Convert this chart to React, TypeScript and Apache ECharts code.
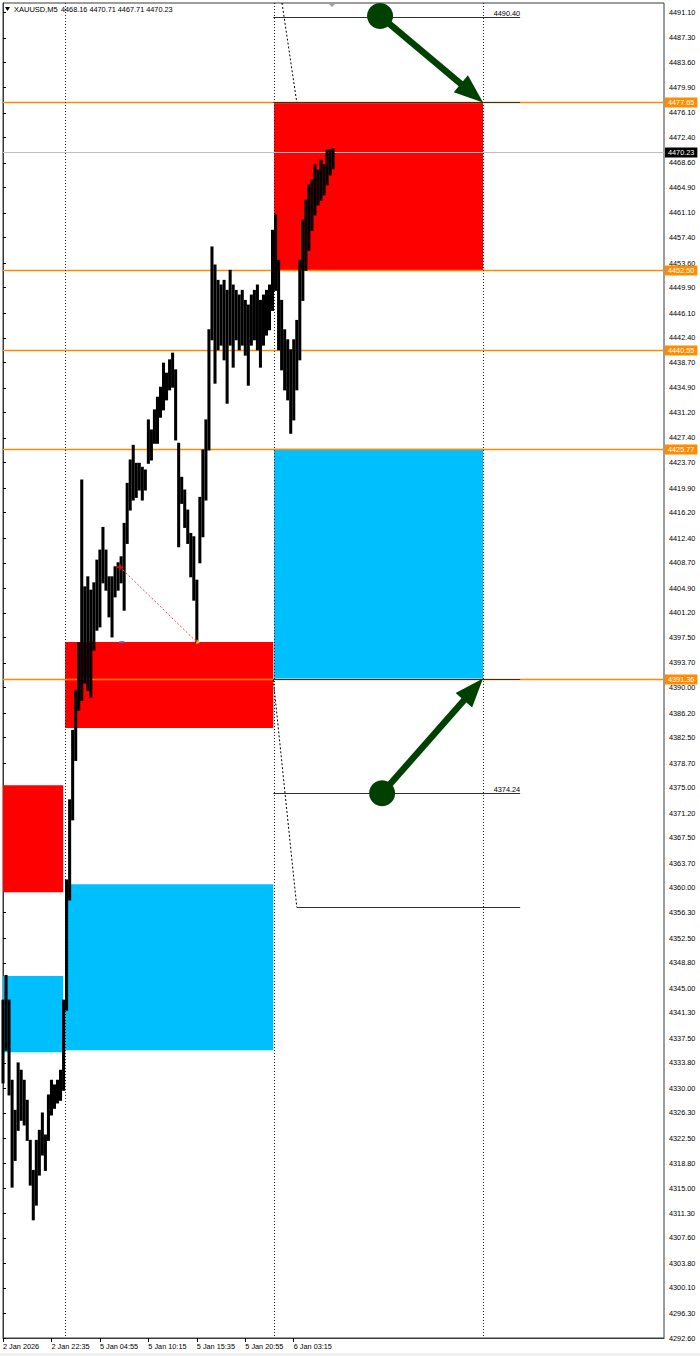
import React, { useEffect, useRef } from "react";
import * as echarts from "echarts";

const FONT = '"Liberation Sans", Arial, sans-serif';

// ---- axes ----
const xMin = 0;
const xMax = 873; // M5 bar index at right edge of plot
const yMin = 4292.6;
const yMax = 4492.54;
const xTickIdx = [0, 64, 128, 192, 256, 320, 384];
const xTickLabels = ["2 Jan 2026", "2 Jan 22:35", "5 Jan 04:55", "5 Jan 10:15", "5 Jan 15:35", "5 Jan 20:55", "6 Jan 03:15"];
const yTicks = [
  4491.1, 4487.3, 4483.6, 4479.9, 4476.1, 4472.4, 4468.6, 4464.9, 4461.1, 4457.4, 4453.6, 4449.9, 4446.1, 4442.4,
  4438.7, 4434.9, 4431.2, 4427.4, 4423.7, 4419.9, 4416.2, 4412.4, 4408.7, 4404.9, 4401.2, 4397.5, 4393.7, 4390.0,
  4386.2, 4382.5, 4378.7, 4375.0, 4371.2, 4367.5, 4363.7, 4360.0, 4356.3, 4352.5, 4348.8, 4345.0, 4341.3, 4337.5,
  4333.8, 4330.0, 4326.3, 4322.5, 4318.8, 4315.0, 4311.3, 4307.6, 4303.8, 4300.1, 4296.3, 4292.6,
];

// ---- price (high/low of each group of 4 M5 bars) ----
const barsPerColumn = 4;
const highs = [
  4343.2, 4346.9, 4343.2, 4331.2, 4326.7, 4333.8, 4332.7, 4331.2, 4328.2, 4322.2,
  4317.7, 4322.2, 4323.7, 4326.3, 4323.0, 4329.0, 4331.2, 4330.5, 4331.2, 4332.7,
  4343.2, 4361.2, 4373.2, 4383.6, 4389.6, 4396.7, 4421.1, 4405.1, 4406.6, 4404.6,
  4405.7, 4409.1, 4410.6, 4414.0, 4410.6, 4406.6, 4406.6, 4408.1, 4408.7, 4409.6,
  4414.6, 4420.6, 4424.1, 4426.3, 4423.6, 4423.6, 4423.0, 4422.6, 4430.1, 4428.6,
  4431.6, 4433.5, 4435.0, 4438.6, 4437.1, 4439.1, 4440.1, 4437.6, 4426.6, 4421.5,
  4419.6, 4416.6, 4413.1, 4412.6, 4406.1, 4418.5, 4425.6, 4430.1, 4443.6, 4456.0,
  4453.3, 4451.0, 4450.3, 4451.0, 4449.5, 4452.5, 4450.3, 4449.5, 4448.8, 4449.5,
  4448.0, 4447.3, 4448.8, 4449.5, 4450.3, 4448.0, 4448.8, 4449.5, 4450.3, 4458.5,
  4460.8, 4454.0, 4448.0, 4443.6, 4442.1, 4440.6, 4442.1, 4445.0, 4454.0, 4460.0,
  4463.0, 4465.3, 4466.0, 4468.3, 4467.5, 4469.0, 4468.3, 4470.5, 4470.6, 4470.71,
];
const lows = [
  4330.8, 4335.7, 4329.0, 4315.2, 4319.2, 4323.7, 4325.2, 4324.5, 4322.2, 4315.5,
  4310.3, 4312.5, 4317.0, 4320.0, 4317.7, 4322.2, 4326.0, 4327.0, 4327.8, 4328.2,
  4329.7, 4341.7, 4358.2, 4370.2, 4379.1, 4386.6, 4388.1, 4390.7, 4389.6, 4388.6,
  4395.6, 4398.6, 4399.1, 4405.7, 4404.6, 4400.6, 4397.6, 4403.6, 4404.6, 4405.7,
  4401.6, 4411.6, 4416.6, 4418.1, 4418.5, 4419.6, 4418.1, 4419.6, 4423.6, 4424.1,
  4426.6, 4426.6, 4430.5, 4431.6, 4433.1, 4434.6, 4435.0, 4427.1, 4411.1, 4417.6,
  4414.0, 4411.6, 4406.6, 4403.1, 4396.7, 4408.7, 4412.6, 4418.1, 4425.6, 4442.1,
  4435.6, 4440.6, 4441.3, 4439.1, 4432.6, 4441.3, 4438.0, 4442.1, 4440.6, 4441.3,
  4439.8, 4435.3, 4441.3, 4442.1, 4440.6, 4438.0, 4441.3, 4442.8, 4443.6, 4446.5,
  4449.5, 4440.6, 4437.6, 4434.6, 4433.1, 4428.1, 4430.1, 4434.6, 4439.1, 4448.0,
  4452.5, 4455.5, 4458.5, 4460.8, 4462.3, 4463.0, 4463.8, 4465.3, 4466.8, 4467.71,
];
const headerSymbol = "XAUUSD,M5";
const headerOHLC = "4468.16 4470.71 4467.71 4470.23";

// ---- period separators (bar index) ----
const separators = [82, 358, 634];

// ---- zones ----
const zoneX0 = [358, 358, 82, 0, 0, 82];
const zoneX1 = [634, 634, 357, 79.5, 79.5, 357];
const zoneTop = [4477.65, 4425.77, 4396.82, 4375.4, 4346.8, 4360.57];
const zoneBottom = [4452.5, 4391.36, 4383.94, 4359.37, 4335.41, 4335.71];
const zoneColors = ["#FF0000", "#00BFFF", "#FF0000", "#FF0000", "#00BFFF", "#00BFFF"];

// ---- horizontal levels ----
const orangeLevels = [4477.65, 4452.5, 4440.55, 4425.77, 4391.36];
const lastPrice = 4470.23;

// ---- trend lines (horizontal) ----
const trendStart = [357, 357, 357, 357, 388];
const trendEnd = [683, 683, 683, 683, 683];
const trendLevel = [4490.4, 4477.65, 4391.36, 4374.24, 4357.13];
const trendLabel = [true, false, false, true, false];

// ---- diagonal dotted lines ----
const diagX0 = [368.5, 357];
const diagY0 = [4492.54, 4391.2];
const diagX1 = [388, 388];
const diagY1 = [4477.65, 4357.13];

// ---- trade line ----
const tradeFrom = [154.6, 4408.05];
const tradeTo = [256, 4396.82];
const pendingMark = [157, 4396.82];

// ---- arrows: circle -> tip ----
const arrowFromX = [498, 500.7];
const arrowFromY = [4490.6, 4374.2];
const arrowToX = [634, 634];
const arrowToY = [4477.65, 4391.36];

const ORANGE = "#FF8C00";
const GREEN = "#004000";

function buildOption(): any {
  const priceData = highs.map((h, k) => [k * barsPerColumn, h, lows[k]]);
  const zoneData = zoneX0.map((x0, i) => [x0, zoneTop[i], zoneX1[i], zoneBottom[i]]);
  const levelData = orangeLevels.map((v) => [v, 0]).concat([[lastPrice, 1]]);
  const trendData = trendLevel.map((v, i) => [trendStart[i], v, trendEnd[i], trendLabel[i] ? 1 : 0]);
  const diagData = diagX0.map((x, i) => [x, diagY0[i], diagX1[i], diagY1[i]]);
  const arrowData = arrowFromX.map((x, i) => [x, arrowFromY[i], arrowToX[i], arrowToY[i]]);

  return {
    animation: false,
    backgroundColor: "#ffffff",
    grid: { left: 2, right: 36, top: 3, bottom: 18, show: true, borderColor: "#3a3a3a", borderWidth: 1, backgroundColor: "#fff" },
    xAxis: {
      type: "value",
      min: xMin,
      max: xMax,
      splitLine: { show: false },
      axisLine: { show: true, lineStyle: { color: "#3a3a3a" } },
      axisTick: { show: true, customValues: xTickIdx, length: 4, lineStyle: { color: "#000" } },
      axisLabel: {
        customValues: xTickIdx,
        formatter: (v: number) => xTickLabels[xTickIdx.indexOf(Math.round(v))] ?? "",
        align: "left",
        margin: 5,
        fontSize: 7.3,
        fontFamily: FONT,
        color: "#000",
      },
    },
    yAxis: {
      type: "value",
      position: "right",
      min: yMin,
      max: yMax,
      scale: true,
      splitLine: { show: false },
      axisLine: { show: true, lineStyle: { color: "#3a3a3a" } },
      axisTick: { show: true, customValues: yTicks, length: 3, lineStyle: { color: "#000" } },
      axisLabel: {
        customValues: yTicks,
        formatter: (v: number) => v.toFixed(2),
        margin: 5,
        fontSize: 7.3,
        fontFamily: FONT,
        color: "#000",
      },
    },
    graphic: [
      { type: "polygon", shape: { points: [[5, 7], [10, 7], [7.5, 11]] }, style: { fill: "#000" }, z: 100 },
      { type: "text", x: 14, y: 9, style: { text: headerSymbol, font: `7.5px ${FONT}`, fill: "#000", verticalAlign: "middle" }, z: 100 },
      { type: "text", x: 61, y: 9, style: { text: headerOHLC, font: `7.3px ${FONT}`, fill: "#000", verticalAlign: "middle" }, z: 100 },
      { type: "polygon", shape: { points: [[328, 3], [336, 3], [332, 7]] }, style: { fill: "#a0a0a0" }, z: 100 },
      { type: "rect", shape: { x: 0, y: 1353, width: 700, height: 3 }, style: { fill: "#f0f0f0" }, z: 100 },
    ],
    series: [
      // zones
      {
        type: "custom",
        silent: true,
        z: 1,
        data: zoneData,
        renderItem: (params: any, api: any) => {
          const a = api.coord([api.value(0), api.value(1)]);
          const b = api.coord([api.value(2), api.value(3)]);
          return {
            type: "rect",
            shape: { x: a[0], y: a[1], width: b[0] - a[0], height: b[1] - a[1] },
            style: { fill: zoneColors[params.dataIndex] },
          };
        },
      },
      // orange levels + current price line with right labels
      {
        type: "custom",
        silent: true,
        z: 3,
        data: levelData,
        renderItem: (params: any, api: any) => {
          const v = api.value(0);
          const isLast = api.value(1) === 1;
          const l = api.coord([xMin, v]);
          const r = api.coord([xMax, v]);
          const y = Math.round(l[1]) + 0.5;
          const col = isLast ? "#000000" : ORANGE;
          return {
            type: "group",
            children: [
              {
                type: "line",
                shape: { x1: l[0], y1: y, x2: r[0], y2: y },
                style: { stroke: isLast ? "#c0c0c0" : ORANGE, lineWidth: isLast ? 1 : 1.6 },
              },
              {
                type: "text",
                x: r[0] + 1,
                y: y,
                z2: 10,
                style: {
                  text: v.toFixed(2),
                  fill: "#fff",
                  backgroundColor: col,
                  padding: [2, 3, 1, 3],
                  font: `7.3px ${FONT}`,
                  verticalAlign: "middle",
                  align: "left",
                },
              },
            ],
          };
        },
      },
      // period separators
      {
        type: "custom",
        silent: true,
        z: 4,
        data: separators.map((s) => [s]),
        renderItem: (params: any, api: any) => {
          const a = api.coord([api.value(0), yMax]);
          const b = api.coord([api.value(0), yMin]);
          const x = Math.round(a[0]) + 0.5;
          return { type: "line", shape: { x1: x, y1: a[1], x2: x, y2: b[1] }, style: { stroke: "#222", lineWidth: 1, lineDash: [1, 2] } };
        },
      },
      // price bars
      {
        type: "custom",
        silent: true,
        z: 5,
        data: priceData,
        renderItem: (params: any, api: any) => {
          const x = api.value(0);
          const a = api.coord([x, api.value(1)]);
          const b = api.coord([x, api.value(2)]);
          return { type: "line", shape: { x1: a[0], y1: a[1] - 0.5, x2: b[0], y2: b[1] + 0.5 }, style: { stroke: "#000", lineWidth: 3.05 } };
        },
      },
      // trend lines
      {
        type: "custom",
        silent: true,
        z: 6,
        data: trendData,
        renderItem: (params: any, api: any) => {
          const v = api.value(1);
          const a = api.coord([api.value(0), v]);
          const b = api.coord([api.value(2), v]);
          const y = Math.round(a[1]) + 0.5;
          const children: any[] = [
            { type: "line", shape: { x1: a[0], y1: y, x2: b[0], y2: y }, style: { stroke: "#303030", lineWidth: 1.2 } },
          ];
          if (api.value(3) === 1) {
            children.push({
              type: "text",
              x: b[0],
              y: y - 4.5,
              style: { text: v.toFixed(2), fill: "#000", font: `7.3px ${FONT}`, align: "right", verticalAlign: "middle" },
            });
          }
          return { type: "group", children };
        },
      },
      // diagonal dotted lines
      {
        type: "custom",
        silent: true,
        z: 6,
        data: diagData,
        renderItem: (params: any, api: any) => {
          const a = api.coord([api.value(0), api.value(1)]);
          const b = api.coord([api.value(2), api.value(3)]);
          return { type: "line", shape: { x1: a[0], y1: a[1], x2: b[0], y2: b[1] }, style: { stroke: "#000", lineWidth: 1, lineDash: [2, 2] } };
        },
      },
      // trade line + markers
      {
        type: "custom",
        silent: true,
        z: 7,
        data: [[tradeFrom[0], tradeFrom[1], tradeTo[0], tradeTo[1]]],
        renderItem: (params: any, api: any) => {
          const a = api.coord([api.value(0), api.value(1)]);
          const b = api.coord([api.value(2), api.value(3)]);
          const p = api.coord(pendingMark);
          return {
            type: "group",
            children: [
              { type: "line", shape: { x1: a[0], y1: a[1], x2: b[0], y2: b[1] }, style: { stroke: "#ff4040", lineWidth: 1, lineDash: [2, 2] } },
              { type: "line", shape: { x1: a[0] - 3, y1: a[1], x2: a[0] + 3, y2: a[1] }, style: { stroke: "#ff0000", lineWidth: 1.5 } },
              { type: "line", shape: { x1: a[0], y1: a[1] - 3, x2: a[0], y2: a[1] + 3 }, style: { stroke: "#ff0000", lineWidth: 1.5 } },
              { type: "polygon", shape: { points: [[b[0], b[1] - 3], [b[0] + 3, b[1] + 1], [b[0] - 1, b[1] + 2]] }, style: { fill: "#f0b000" } },
              { type: "rect", shape: { x: p[0] - 2.5, y: p[1] - 1, width: 5, height: 2 }, style: { fill: "#6a5acd" } },
            ],
          };
        },
      },
      // arrows
      {
        type: "custom",
        silent: true,
        z: 8,
        data: arrowData,
        renderItem: (params: any, api: any) => {
          const c = api.coord([api.value(0), api.value(1)]);
          const t = api.coord([api.value(2), api.value(3)]);
          const dx = t[0] - c[0];
          const dy = t[1] - c[1];
          const len = Math.sqrt(dx * dx + dy * dy);
          const ux = dx / len;
          const uy = dy / len;
          const nx = -uy;
          const ny = ux;
          const headLen = 29;
          const headHalf = 11;
          const bx = t[0] - ux * headLen;
          const by = t[1] - uy * headLen;
          return {
            type: "group",
            children: [
              { type: "line", shape: { x1: c[0], y1: c[1], x2: bx + ux * 3, y2: by + uy * 3 }, style: { stroke: GREEN, lineWidth: 6.5 } },
              {
                type: "polygon",
                shape: { points: [[t[0], t[1]], [bx + nx * headHalf, by + ny * headHalf], [bx - nx * headHalf, by - ny * headHalf]] },
                style: { fill: GREEN },
              },
              { type: "circle", shape: { cx: c[0], cy: c[1], r: 13 }, style: { fill: GREEN } },
            ],
          };
        },
      },
    ],
  };
}

export default function App() {
  const ref = useRef<HTMLDivElement>(null);
  useEffect(() => {
    document.body.style.margin = "0";
    const chart = echarts.init(ref.current!, null, { renderer: "svg" });
    chart.setOption(buildOption());
    return () => chart.dispose();
  }, []);
  return <div ref={ref} style={{ width: 700, height: 1356 }} />;
}
